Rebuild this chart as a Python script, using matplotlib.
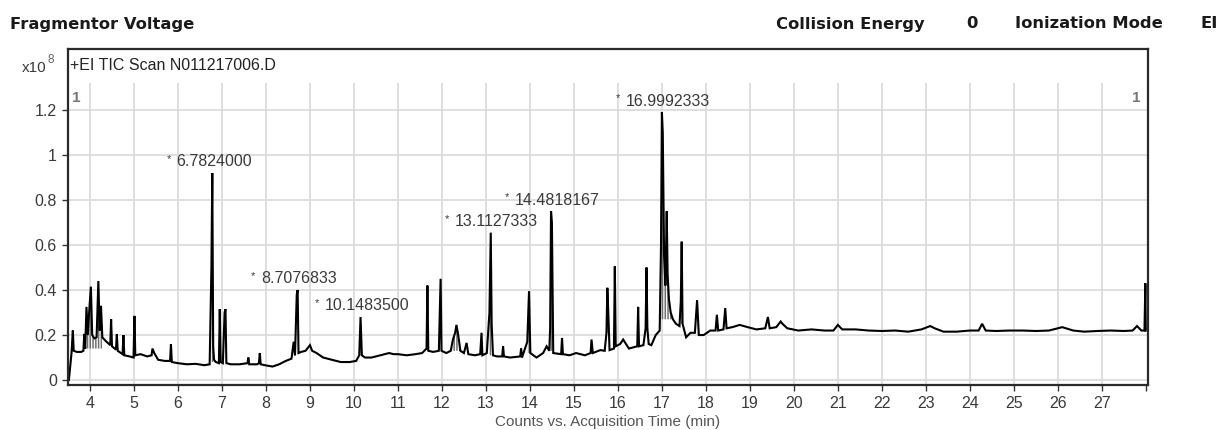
import matplotlib
matplotlib.use("Agg")
import matplotlib.pyplot as plt
import numpy as np

# ------------------------------------------------------------------ data
# TIC trace (time in min, counts in 1e8)
time_min = [
    3.52, 3.55, 3.58, 3.61, 3.63, 3.70, 3.80, 3.85, 3.87, 3.89,
    3.92, 3.95, 3.98, 4.02, 4.05, 4.10, 4.15, 4.19, 4.22, 4.25,
    4.28, 4.35, 4.46, 4.48, 4.50, 4.59, 4.61, 4.63, 4.74, 4.76,
    4.78, 4.90, 4.99, 5.01, 5.03, 5.15, 5.30, 5.40, 5.42, 5.46,
    5.55, 5.70, 5.82, 5.84, 5.86, 6.00, 6.20, 6.40, 6.60, 6.72,
    6.76, 6.78, 6.80, 6.82, 6.86, 6.93, 6.95, 6.97, 7.02, 7.06,
    7.08, 7.10, 7.20, 7.40, 7.58, 7.60, 7.62, 7.80, 7.84, 7.86,
    7.88, 8.00, 8.15, 8.30, 8.45, 8.58, 8.63, 8.66, 8.70, 8.72,
    8.74, 8.80, 8.90, 9.00, 9.05, 9.15, 9.30, 9.50, 9.70, 9.90,
    10.05, 10.12, 10.15, 10.18, 10.25, 10.40, 10.60, 10.80, 10.90, 11.00,
    11.20, 11.40, 11.55, 11.65, 11.67, 11.69, 11.80, 11.93, 11.97, 11.99,
    12.10, 12.20, 12.25, 12.30, 12.33, 12.37, 12.42, 12.50, 12.56, 12.60,
    12.75, 12.87, 12.90, 12.92, 13.02, 13.08, 13.11, 13.13, 13.16, 13.25,
    13.37, 13.39, 13.41, 13.55, 13.78, 13.80, 13.82, 13.94, 13.98, 14.01,
    14.15, 14.30, 14.38, 14.44, 14.46, 14.48, 14.50, 14.53, 14.71, 14.73,
    14.75, 14.90, 15.05, 15.25, 15.38, 15.40, 15.43, 15.60, 15.70, 15.74,
    15.76, 15.78, 15.81, 15.91, 15.93, 15.95, 16.05, 16.12, 16.25, 16.44,
    16.46, 16.48, 16.58, 16.63, 16.65, 16.67, 16.70, 16.76, 16.86, 16.95,
    16.98, 17.00, 17.02, 17.05, 17.08, 17.11, 17.13, 17.16, 17.20, 17.25,
    17.32, 17.40, 17.43, 17.45, 17.47, 17.55, 17.65, 17.75, 17.80, 17.84,
    17.95, 18.10, 18.22, 18.25, 18.28, 18.40, 18.44, 18.47, 18.60, 18.77,
    18.95, 19.15, 19.35, 19.41, 19.45, 19.60, 19.70, 19.74, 19.85, 20.10,
    20.40, 20.70, 20.90, 21.00, 21.10, 21.40, 21.70, 22.00, 22.30, 22.60,
    22.90, 23.10, 23.20, 23.40, 23.70, 24.00, 24.20, 24.28, 24.36, 24.60,
    24.90, 25.20, 25.50, 25.80, 26.10, 26.35, 26.60, 26.90, 27.20, 27.50,
    27.70, 27.80, 27.90, 27.97, 27.99, 28.00,
]
counts_e8 = [
    0.00, 0.06, 0.12, 0.22, 0.13, 0.125, 0.125, 0.13, 0.205, 0.14,
    0.325, 0.20, 0.30, 0.415, 0.20, 0.185, 0.19, 0.44, 0.22, 0.33,
    0.19, 0.175, 0.155, 0.27, 0.15, 0.135, 0.203, 0.13, 0.115, 0.20,
    0.11, 0.105, 0.10, 0.285, 0.11, 0.115, 0.105, 0.11, 0.14, 0.12,
    0.09, 0.085, 0.085, 0.16, 0.08, 0.075, 0.07, 0.072, 0.066, 0.07,
    0.50, 0.92, 0.15, 0.09, 0.08, 0.075, 0.315, 0.08, 0.075, 0.30,
    0.315, 0.075, 0.07, 0.07, 0.075, 0.10, 0.07, 0.07, 0.075, 0.12,
    0.07, 0.065, 0.06, 0.07, 0.085, 0.095, 0.17, 0.11, 0.38, 0.40,
    0.12, 0.125, 0.13, 0.155, 0.13, 0.12, 0.10, 0.09, 0.08, 0.08,
    0.085, 0.11, 0.28, 0.11, 0.10, 0.10, 0.11, 0.12, 0.115, 0.115,
    0.11, 0.115, 0.12, 0.14, 0.42, 0.13, 0.125, 0.13, 0.45, 0.13,
    0.12, 0.13, 0.18, 0.21, 0.245, 0.20, 0.13, 0.12, 0.165, 0.115,
    0.11, 0.115, 0.21, 0.11, 0.12, 0.30, 0.655, 0.25, 0.11, 0.105,
    0.105, 0.15, 0.105, 0.10, 0.105, 0.14, 0.10, 0.17, 0.395, 0.12,
    0.10, 0.12, 0.15, 0.13, 0.23, 0.75, 0.70, 0.12, 0.115, 0.187,
    0.115, 0.11, 0.12, 0.11, 0.12, 0.18, 0.12, 0.133, 0.13, 0.21,
    0.41, 0.31, 0.133, 0.14, 0.505, 0.15, 0.16, 0.18, 0.14, 0.15,
    0.325, 0.15, 0.155, 0.23, 0.50, 0.23, 0.16, 0.155, 0.20, 0.22,
    0.60, 1.19, 1.10, 0.55, 0.42, 0.75, 0.47, 0.36, 0.30, 0.27,
    0.25, 0.24, 0.35, 0.615, 0.25, 0.19, 0.21, 0.21, 0.355, 0.20,
    0.20, 0.22, 0.22, 0.29, 0.22, 0.225, 0.32, 0.23, 0.235, 0.245,
    0.235, 0.225, 0.23, 0.28, 0.23, 0.235, 0.26, 0.25, 0.23, 0.22,
    0.225, 0.22, 0.22, 0.245, 0.225, 0.225, 0.22, 0.218, 0.22, 0.215,
    0.225, 0.24, 0.23, 0.215, 0.215, 0.22, 0.22, 0.25, 0.22, 0.218,
    0.22, 0.22, 0.218, 0.22, 0.235, 0.22, 0.215, 0.218, 0.22, 0.218,
    0.22, 0.24, 0.22, 0.22, 0.43, 0.22,
]

# integrated peak windows (drawn hatched)
integ_start = [3.86, 6.74, 10.10, 12.20, 13.06, 13.92, 14.44, 15.73, 16.61, 16.96, 17.41, 17.77]
integ_end = [4.30, 6.88, 10.22, 12.44, 13.18, 14.03, 14.51, 15.80, 16.69, 17.28, 17.50, 17.86]

# labelled peaks: retention time and apex height
label_rt = [6.7824000, 8.7076833, 10.1483500, 13.1127333, 14.4818167, 16.9992333]
label_h = [0.92, 0.40, 0.28, 0.655, 0.75, 1.19]

x_ticks = list(range(4, 29))
x_ticklabels = [str(v) for v in range(4, 28)] + [""]
y_ticks = [0, 0.2, 0.4, 0.6, 0.8, 1.0, 1.2]
y_ticklabels = ["0", "0.2", "0.4", "0.6", "0.8", "1", "1.2"]

# ------------------------------------------------------------------ plot
W, H = 1224, 430
TXT = "#3a3a3a"
GRID = "#dcdcdc"
SANS = ["Liberation Sans", "DejaVu Sans"]

plt.rcParams["hatch.linewidth"] = 1.1

fig = plt.figure(figsize=(W / 100, H / 100), dpi=100)
fig.patch.set_facecolor("white")
ax = fig.add_axes([68 / W, 45 / H, 1080 / W, 336 / H])

t = np.array(time_min)
c = np.array(counts_e8)

ax.set_xlim(3.5, 28.05)
ax.set_ylim(-0.022, 1.471)
grid_top = 1.32

# grid
for yv in y_ticks:
    ax.hlines(yv, 3.5, 28.05, color=GRID, lw=1.3, zorder=0)
ax.vlines(x_ticks[:-1], -0.022, grid_top, color=GRID, lw=1.3, zorder=0)

# hatched integration regions
for a, b in zip(integ_start, integ_end):
    m = (t >= a) & (t <= b)
    base = c[m].min()
    ax.fill_between(t[m], base, c[m], facecolor="none", edgecolor="#6f6f6f",
                    hatch="||||||", linewidth=0, zorder=1)

ax.plot(t, c, color="black", lw=1.5, zorder=2, solid_joinstyle="miter")

# peak labels
for rt, h in zip(label_rt, label_h):
    ax.annotate(f"{rt:.7f}", xy=(rt, h), xytext=(-26, 8),
                textcoords="offset points", ha="left", va="center",
                fontsize=11.5, color=TXT, family=SANS)
    ax.annotate("*", xy=(rt, h), xytext=(-33, 10),
                textcoords="offset points", ha="left", va="center",
                fontsize=8, color=TXT, family=SANS)

ax.text(0.004, 0.855, "1", transform=ax.transAxes, fontsize=11,
        color="#777777", fontweight="bold", ha="left", va="center", family=SANS)
ax.text(0.993, 0.855, "1", transform=ax.transAxes, fontsize=11,
        color="#777777", fontweight="bold", ha="right", va="center", family=SANS)

ax.text(0.002, 0.95, "+EI TIC Scan N011217006.D", transform=ax.transAxes,
        fontsize=11.5, color="#222222", ha="left", va="center", family=SANS)

# axes styling
for s in ax.spines.values():
    s.set_color("#2a2a2a")
    s.set_linewidth(1.6)
ax.set_xticks(x_ticks)
ax.set_xticklabels(x_ticklabels, family=SANS)
ax.set_yticks(y_ticks)
ax.set_yticklabels(y_ticklabels, family=SANS)
ax.tick_params(axis="both", direction="out", length=4, width=1.0,
               color="#333333", labelcolor=TXT, labelsize=11.5)
ax.tick_params(axis="x", pad=4)
ax.tick_params(axis="y", pad=4)

# header
hy = 1 - 24 / H
hkw = dict(fontsize=11.8, fontweight="bold", color="#1a1a1a", va="center",
           family=["DejaVu Sans"])
fig.text(10 / W, hy, "Fragmentor Voltage", ha="left", **hkw)
fig.text(776 / W, hy, "Collision Energy", ha="left", **hkw)
fig.text(966 / W, hy, "0", ha="left", **hkw)
fig.text(1015 / W, hy, "Ionization Mode", ha="left", **hkw)
fig.text(1200 / W, hy, "EI", ha="left", **hkw)

# exponent label
fig.text(46 / W, 1 - 68 / H, "x10", ha="right", va="center", fontsize=11,
         color=TXT, family=SANS)
fig.text(48 / W, 1 - 60 / H, "8", ha="left", va="center", fontsize=8.5,
         color="#666666", family=SANS)

fig.text(608 / W, 1 - 422 / H, "Counts vs. Acquisition Time (min)",
         ha="center", va="center", fontsize=11, color="#555555", family=SANS)

fig.savefig("out.png", dpi=100, facecolor="white")
